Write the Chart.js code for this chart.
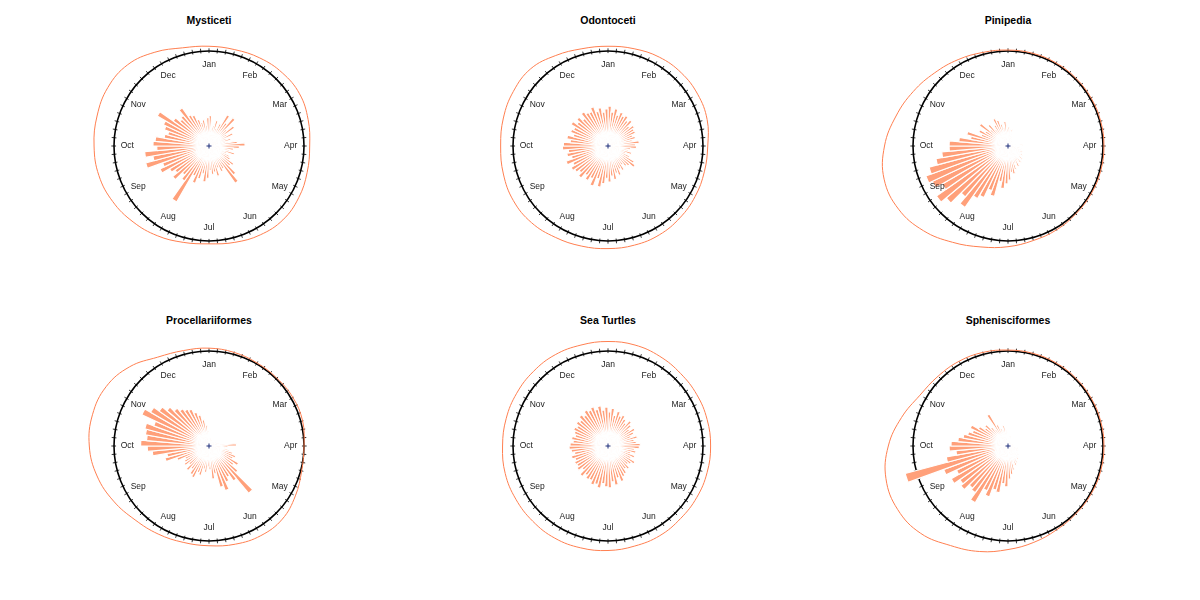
<!DOCTYPE html>
<html>
<head>
<meta charset="utf-8">
<script src="https://cdn.jsdelivr.net/npm/chart.js@4/dist/chart.umd.min.js"></script>
<style>
  body { margin: 0; background: #fff; }
  #wrap { position: relative; width: 1200px; height: 600px; overflow: hidden; }
  .ttl { position: absolute; width: 300px; margin-left: -150px; text-align: center;
         font: bold 10.5px "Liberation Sans", Arial, sans-serif; color: #000; }
  canvas { position: absolute; }
</style>
</head>
<body>
<div id="wrap"></div>
<script>
const months = ["Jan", "Feb", "Mar", "Apr", "May", "Jun", "Jul", "Aug", "Sep", "Oct", "Nov", "Dec"];
const titles = ["Mysticeti", "Odontoceti", "Pinipedia", "Procellariiformes", "Sea Turtles", "Sphenisciformes"];

// bar length per 5 degree bin (fraction of the circle radius), Jan at top, clockwise
const mysticetiBars = [
  0.32, 0.18, 0.22, 0.28, 0.20, 0.26, 0.38, 0.30, 0.39, 0.25, 0.33, 0.22,
  0.28, 0.20, 0.24, 0.18, 0.30, 0.38, 0.32, 0.26, 0.22, 0.28, 0.20, 0.24,
  0.26, 0.32, 0.30, 0.40, 0.48, 0.28, 0.30, 0.25, 0.33, 0.28, 0.30, 0.26,
  0.34, 0.38, 0.30, 0.36, 0.42, 0.35, 0.68, 0.45, 0.40, 0.50, 0.44, 0.48,
  0.57, 0.52, 0.69, 0.60, 0.68, 0.55, 0.59, 0.57, 0.48, 0.45, 0.50, 0.53,
  0.63, 0.46, 0.40, 0.42, 0.49, 0.38, 0.36, 0.30, 0.26, 0.28, 0.22, 0.30
];
const odontocetiBars = [
  0.42, 0.36, 0.40, 0.34, 0.38, 0.35, 0.37, 0.33, 0.36, 0.30, 0.34, 0.32,
  0.32, 0.28, 0.30, 0.26, 0.33, 0.29, 0.30, 0.24, 0.22, 0.26, 0.20, 0.25,
  0.32, 0.35, 0.30, 0.28, 0.25, 0.30, 0.27, 0.33, 0.30, 0.36, 0.32, 0.38,
  0.34, 0.40, 0.44, 0.36, 0.45, 0.38, 0.42, 0.38, 0.44, 0.40, 0.43, 0.45,
  0.41, 0.47, 0.40, 0.44, 0.42, 0.48, 0.47, 0.40, 0.44, 0.38, 0.42, 0.40,
  0.45, 0.40, 0.43, 0.38, 0.44, 0.41, 0.40, 0.44, 0.38, 0.41, 0.36, 0.39
];
const pinipediaBars = [
  0.20, 0.12, 0.18, 0.10, 0.08, 0.06, 0.05, 0.04, 0.06, 0.04, 0.05, 0.03,
  0.04, 0.03, 0.05, 0.06, 0.08, 0.15, 0.12, 0.08, 0.14, 0.10, 0.16, 0.12,
  0.18, 0.14, 0.20, 0.16, 0.22, 0.18, 0.24, 0.20, 0.26, 0.30, 0.28, 0.36,
  0.40, 0.45, 0.38, 0.55, 0.50, 0.60, 0.64, 0.79, 0.70, 0.85, 0.92, 0.80,
  0.88, 0.92, 0.86, 0.77, 0.70, 0.62, 0.62, 0.52, 0.40, 0.45, 0.30, 0.34,
  0.28, 0.37, 0.25, 0.30, 0.22, 0.26, 0.32, 0.29, 0.24, 0.20, 0.26, 0.18
];
const procellariiformesBars = [
  0.10, 0.08, 0.06, 0.05, 0.06, 0.04, 0.05, 0.04, 0.03, 0.05, 0.04, 0.06,
  0.05, 0.08, 0.06, 0.10, 0.12, 0.29, 0.20, 0.16, 0.22, 0.26, 0.30, 0.28,
  0.36, 0.32, 0.40, 0.65, 0.45, 0.38, 0.42, 0.50, 0.45, 0.30, 0.35, 0.25,
  0.22, 0.28, 0.25, 0.32, 0.30, 0.37, 0.35, 0.30, 0.34, 0.28, 0.32, 0.30,
  0.28, 0.36, 0.48, 0.45, 0.60, 0.65, 0.72, 0.66, 0.68, 0.70, 0.62, 0.78,
  0.71, 0.64, 0.58, 0.52, 0.48, 0.45, 0.43, 0.38, 0.34, 0.28, 0.22, 0.15
];
const seaTurtlesBars = [
  0.36, 0.40, 0.33, 0.38, 0.34, 0.36, 0.33, 0.30, 0.35, 0.32, 0.28, 0.33,
  0.30, 0.26, 0.32, 0.28, 0.30, 0.34, 0.33, 0.28, 0.30, 0.25, 0.30, 0.27,
  0.33, 0.30, 0.28, 0.32, 0.30, 0.34, 0.36, 0.40, 0.35, 0.42, 0.38, 0.44,
  0.43, 0.40, 0.45, 0.42, 0.44, 0.40, 0.41, 0.38, 0.42, 0.36, 0.40, 0.38,
  0.39, 0.37, 0.40, 0.36, 0.39, 0.41, 0.40, 0.37, 0.39, 0.36, 0.38, 0.40,
  0.38, 0.41, 0.39, 0.43, 0.40, 0.44, 0.42, 0.44, 0.40, 0.43, 0.38, 0.41
];
const sphenisciformesBars = [
  0.12, 0.08, 0.10, 0.06, 0.05, 0.04, 0.04, 0.03, 0.04, 0.03, 0.04, 0.03,
  0.03, 0.04, 0.03, 0.05, 0.04, 0.06, 0.08, 0.06, 0.10, 0.08, 0.12, 0.10,
  0.12, 0.10, 0.15, 0.12, 0.18, 0.16, 0.20, 0.22, 0.18, 0.26, 0.30, 0.35,
  0.43, 0.40, 0.50, 0.48, 0.57, 0.52, 0.69, 0.60, 0.58, 0.65, 0.62, 0.69,
  0.60, 0.72, 1.12, 0.66, 0.55, 0.62, 0.60, 0.53, 0.48, 0.44, 0.40, 0.44,
  0.36, 0.30, 0.32, 0.26, 0.22, 0.39, 0.25, 0.20, 0.18, 0.22, 0.16, 0.14
];

// density curve radius every 15 degrees (circle = 1)
const mysticetiDens = [1.05, 1.05, 1.07, 1.09, 1.10, 1.08, 1.06, 1.07, 1.09, 1.10, 1.08, 1.05,
                       1.03, 1.05, 1.09, 1.13, 1.17, 1.20, 1.21, 1.22, 1.23, 1.21, 1.14, 1.07];
const odontocetiDens = [1.05, 1.06, 1.08, 1.09, 1.09, 1.08, 1.05, 1.05, 1.06, 1.07, 1.08, 1.08,
                        1.08, 1.09, 1.11, 1.14, 1.15, 1.14, 1.13, 1.14, 1.15, 1.15, 1.10, 1.06];
const pinipediaDens = [1.01, 1.01, 1.01, 1.01, 1.01, 1.01, 1.01, 1.01, 1.01, 1.01, 1.02, 1.03,
                       1.06, 1.10, 1.17, 1.26, 1.33, 1.35, 1.30, 1.22, 1.15, 1.09, 1.05, 1.02];
const procellariiformesDens = [1.03, 1.02, 1.01, 1.01, 1.02, 1.02, 1.00, 1.01, 1.05, 1.09, 1.09, 1.07,
                               1.05, 1.05, 1.07, 1.10, 1.16, 1.22, 1.26, 1.27, 1.25, 1.18, 1.08, 1.04];
const seaTurtlesDens = [1.10, 1.10, 1.09, 1.08, 1.08, 1.08, 1.08, 1.08, 1.08, 1.08, 1.09, 1.09,
                        1.10, 1.11, 1.12, 1.12, 1.12, 1.12, 1.11, 1.11, 1.11, 1.11, 1.11, 1.10];
const sphenisciformesDens = [1.01, 1.01, 1.01, 1.01, 1.01, 1.01, 1.01, 1.01, 1.01, 1.01, 1.02, 1.05,
                             1.09, 1.15, 1.21, 1.30, 1.34, 1.33, 1.26, 1.16, 1.07, 1.04, 1.03, 1.02];

const allBars = [mysticetiBars, odontocetiBars, pinipediaBars, procellariiformesBars, seaTurtlesBars, sphenisciformesBars];
const allDens = [mysticetiDens, odontocetiDens, pinipediaDens, procellariiformesDens, seaTurtlesDens, sphenisciformesDens];

const binLabels = mysticetiBars.map((v, i) => (i * 5) + "°");
const densLabels = mysticetiDens.map((v, i) => (i * 15) + "°");

const centersX = [209, 608, 1008];
const centersY = [146, 446];
const rMax = 1.4;
const half = 133; // 95 px per unit radius

function radialScale() {
  return {
    min: 0, max: rMax,
    ticks: { display: false },
    grid: { display: false },
    angleLines: { display: false },
    pointLabels: { display: false }
  };
}

// circle and ticks under the bars, month names and centre mark on top
const dial = {
  id: "dial",
  beforeDatasetsDraw(chart) {
    const s = chart.scales.r, ctx = chart.ctx;
    ctx.save();
    ctx.strokeStyle = "#000";
    ctx.lineWidth = 1.6;
    ctx.beginPath();
    ctx.arc(s.xCenter, s.yCenter, s.getDistanceFromCenterForValue(1), 0, Math.PI * 2);
    ctx.stroke();
    ctx.lineWidth = 0.8;
    for (let k = 0; k < binLabels.length; k++) {
      const a = s.getPointPositionForValue(k, 0.978);
      const b = s.getPointPositionForValue(k, 1.028);
      ctx.beginPath();
      ctx.moveTo(a.x, a.y);
      ctx.lineTo(b.x, b.y);
      ctx.stroke();
    }
    ctx.restore();
  },
  afterDatasetsDraw(chart) {
    const s = chart.scales.r, ctx = chart.ctx;
    ctx.save();
    ctx.fillStyle = "#222";
    ctx.font = '8.5px "Liberation Sans", Arial, sans-serif';
    ctx.textAlign = "center";
    ctx.textBaseline = "middle";
    months.forEach((m, i) => {
      const p = s.getPointPositionForValue(i * 6, 0.86);
      ctx.fillText(m, p.x, p.y);
    });
    ctx.strokeStyle = "#1f2f7a";
    ctx.lineWidth = 1;
    ctx.beginPath();
    ctx.moveTo(s.xCenter - 2.5, s.yCenter); ctx.lineTo(s.xCenter + 2.5, s.yCenter);
    ctx.moveTo(s.xCenter, s.yCenter - 2.5); ctx.lineTo(s.xCenter, s.yCenter + 2.5);
    ctx.stroke();
    ctx.restore();
  }
};

const wrap = document.getElementById("wrap");

titles.forEach((t, n) => {
  const cx = centersX[n % 3], cy = centersY[Math.floor(n / 3)];

  const tt = document.createElement("div");
  tt.className = "ttl";
  tt.style.left = cx + "px";
  tt.style.top = (cy - 132) + "px";
  tt.textContent = t;
  wrap.appendChild(tt);

  const c1 = document.createElement("canvas");
  const c2 = document.createElement("canvas");
  [c1, c2].forEach(c => {
    c.width = half * 2; c.height = half * 2;
    c.style.left = (cx - half) + "px";
    c.style.top = (cy - half) + "px";
    wrap.appendChild(c);
  });

  new Chart(c1, {
    type: "polarArea",
    data: {
      labels: binLabels,
      datasets: [{
        data: allBars[n],
        backgroundColor: "#FFA07A",
        borderColor: "#ffffff",
        borderWidth: 1.2
      }]
    },
    options: {
      responsive: false,
      animation: false,
      plugins: { legend: { display: false }, tooltip: { enabled: false } },
      scales: { r: radialScale() }
    },
    plugins: [dial]
  });

  new Chart(c2, {
    type: "radar",
    data: {
      labels: densLabels,
      datasets: [{
        data: allDens[n],
        borderColor: "#FF7F50",
        borderWidth: 1,
        pointRadius: 0,
        fill: false,
        tension: 0.4
      }]
    },
    options: {
      responsive: false,
      animation: false,
      plugins: { legend: { display: false }, tooltip: { enabled: false } },
      scales: { r: radialScale() }
    }
  });
});
</script>
</body>
</html>
